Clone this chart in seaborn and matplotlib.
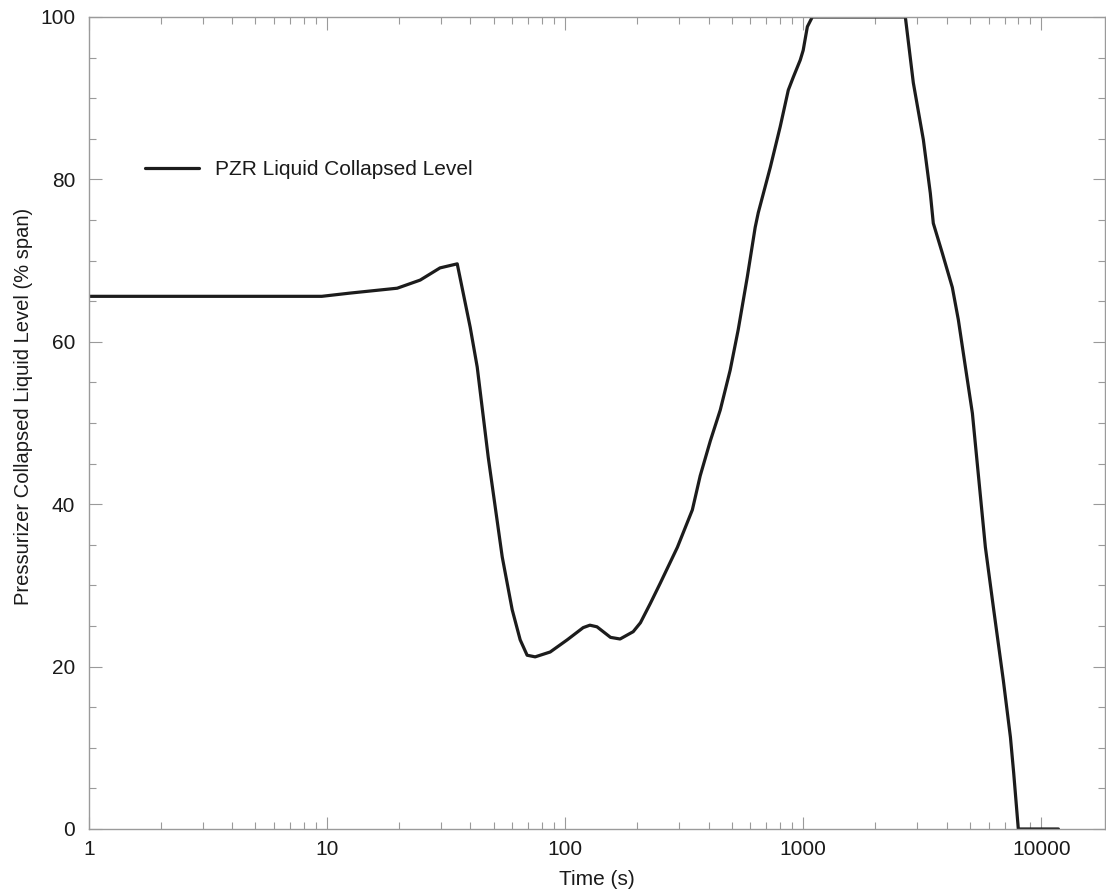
import matplotlib
matplotlib.use("Agg")
import matplotlib.pyplot as plt
import matplotlib.ticker as mticker
import seaborn as sns
import pandas as pd
import numpy as np

# Data
time_s = [1, 2, 4, 6, 9.5, 12.5, 19.7, 24.6, 29.8, 35.2, 39.9, 42.7, 47.5, 54.4,
          59.9, 64.7, 69.2, 74.8, 86.5, 102, 119, 127, 136, 155, 170, 193, 207,
          228, 251, 296, 342, 369, 407, 448, 493, 533, 582, 628, 647, 727, 800,
          865, 908, 971, 999, 1040, 1091, 2683, 2898, 3193, 3416, 3516, 3838,
          4226, 4480, 4796, 5131, 5818, 6286, 6921, 7413, 7650, 8000, 11790]
level = [65.6, 65.6, 65.6, 65.6, 65.6, 66.0, 66.6, 67.6, 69.1, 69.6, 61.8, 56.9,
         45.8, 33.5, 27.0, 23.3, 21.4, 21.2, 21.8, 23.3, 24.8, 25.1, 24.9, 23.6,
         23.4, 24.3, 25.4, 27.8, 30.3, 34.7, 39.3, 43.5, 47.8, 51.6, 56.5, 61.5,
         68.0, 74.1, 75.9, 81.5, 86.5, 91.0, 92.6, 94.7, 95.9, 98.8, 100.0, 100.0,
         91.9, 84.9, 78.3, 74.6, 70.9, 66.7, 62.7, 56.9, 51.2, 34.7, 27.3, 18.3,
         11.3, 6.9, 0.0, 0.0]
series_name = "PZR Liquid Collapsed Level"
x_label = "Time (s)"
y_label = "Pressurizer Collapsed Liquid Level (% span)"
x_ticks = [1, 10, 100, 1000, 10000]
y_ticks = [0, 20, 40, 60, 80, 100]

df = pd.DataFrame({"Time": time_s, "Level": level, "Series": series_name})

sns.set_style("ticks")
plt.rcParams["font.family"] = ["Liberation Sans", "DejaVu Sans"]

fig = plt.figure(figsize=(11.06, 8.92), dpi=100)
ax = fig.add_axes([89 / 1106, 1 - 829 / 892, 1016 / 1106, 812 / 892])

sns.lineplot(data=df, x="Time", y="Level", hue="Series", palette=["#1c1c1c"],
             linewidth=2.3, ax=ax, sort=False, estimator=None)

ax.set_xscale("log")
ax.set_xlim(1, 18500)
ax.set_ylim(0, 100)
ax.set_xticks(x_ticks)
ax.set_xticklabels([str(t) for t in x_ticks])
ax.xaxis.set_minor_locator(mticker.LogLocator(base=10, subs=np.arange(2, 10)))
ax.xaxis.set_minor_formatter(mticker.NullFormatter())
ax.set_yticks(y_ticks)
ax.yaxis.set_minor_locator(mticker.MultipleLocator(5))

gray = "#9a9a9a"
for s in ax.spines.values():
    s.set_visible(True)
    s.set_color(gray)
    s.set_linewidth(1.0)
ax.tick_params(which="both", direction="in", top=True, right=True, color=gray,
               width=0.8, labelsize=15, labelcolor="#1a1a1a")
ax.tick_params(which="major", length=9)
ax.tick_params(which="minor", length=5)
ax.tick_params(axis="x", which="major", pad=8)
ax.tick_params(axis="y", which="major", pad=10)

ax.set_xlabel(x_label, fontsize=15, color="#1a1a1a", labelpad=8)
ax.set_ylabel(y_label, fontsize=14.5, color="#1a1a1a")
ax.yaxis.set_label_coords(-0.055, 0.521)

leg = ax.legend(loc="center left", bbox_to_anchor=(0.055, 0.812), frameon=False,
                fontsize=15, handlelength=2.6, handletextpad=0.75, borderpad=0,
                borderaxespad=0)
for t in leg.get_texts():
    t.set_color("#1a1a1a")

fig.savefig("out.png", dpi=100)
